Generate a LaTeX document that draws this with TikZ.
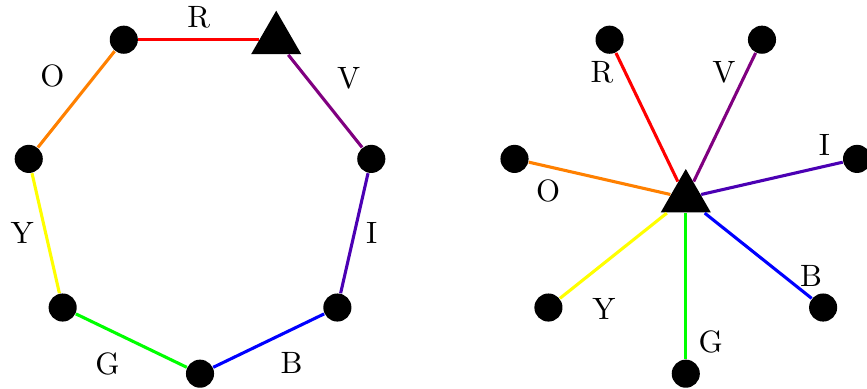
\documentclass[tikz,border=0pt]{standalone}
\usetikzlibrary{shapes.geometric}
\definecolor{SpecRed}{HTML}{FF0000}
\definecolor{SpecOrange}{HTML}{FF8000}
\definecolor{SpecYellow}{HTML}{FFFF00}
\definecolor{SpecGreen}{HTML}{00FF00}
\definecolor{SpecBlue}{HTML}{0000FF}
\definecolor{SpecIndigo}{HTML}{4B00B4}
\definecolor{SpecViolet}{HTML}{800080}
\tikzset{
  dot/.style={circle, fill=black, inner sep=0pt, minimum size=3.2mm},
  apex/.style={regular polygon, regular polygon sides=3, fill=black, inner sep=0pt, minimum size=6.6mm},
  band/.style={line width=1pt},
  tag/.style={text=black},
}

\begin{document}
\begin{tikzpicture}
  \useasboundingbox (-2.277,-2.174) rectangle (7.593,2.254);
  \clip (-2.277,-2.174) rectangle (7.593,2.254);
  % cycle: seven corners, 360/7 apart, apex on top right
  \node[apex] (c0) at (64.29:2) {};
  \foreach \i/\a in {1/115.71,2/167.14,3/218.57,4/270,5/321.43,6/12.86}
    \node[dot] (c\i) at (\a:2) {};
  \foreach \i/\j/\col/\lab/\anc in {0/1/SpecRed/R/south,1/2/SpecOrange/O/south east,2/3/SpecYellow/Y/east,3/4/SpecGreen/G/north east,4/5/SpecBlue/B/north west,5/6/SpecIndigo/I/west,6/0/SpecViolet/V/south west}
    \draw[band, \col] (c\i) -- node[tag, anchor=\anc] (e\lab) {\lab} (c\j);
  % star: same corners round one hub
  \node[apex] (hub) at (5.53,0) {};
  \foreach \lab/\a/\col/\b/\r in {R/115.71/SpecRed/123.7/1.72,V/64.29/SpecViolet/73.2/1.50,I/12.86/SpecIndigo/20.9/1.69,B/-38.57/SpecBlue/-32.0/1.68,G/-90/SpecGreen/-80.1/1.66,Y/218.57/SpecYellow/233.6/1.57,O/167.14/SpecOrange/177.1/1.57}{
    \node[dot] (s\lab) at ([shift={(\a:2)}]hub.center) {};
    \draw[band, \col] (hub) -- (s\lab);
    \node[tag] (t\lab) at ([shift={(\b:\r)}]hub.center) {\lab};
  }
\end{tikzpicture}
\end{document}
